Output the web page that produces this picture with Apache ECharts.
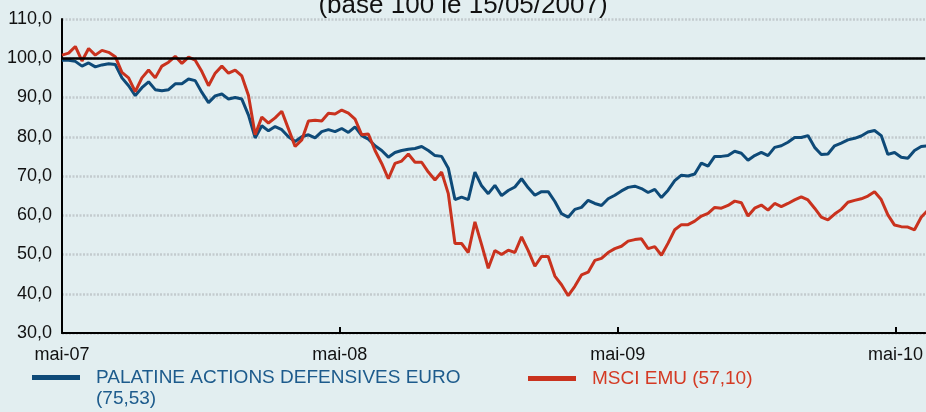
<!DOCTYPE html>
<html>
<head>
<meta charset="utf-8">
<script src="https://cdn.jsdelivr.net/npm/echarts@6/dist/echarts.min.js"></script>
<style>
  html, body { margin: 0; padding: 0; background: #e2eef0; }
  #chart { width: 926px; height: 412px; }
</style>
</head>
<body>
<div id="chart"></div>
<script>
// one reading every 8.75 days from 15/05/2007
const sampleDays = 8.75
const tickLabels = ['mai-07', 'mai-08', 'mai-09', 'mai-10']

const palatine = [
  99.5, 99.5, 99.2, 98, 98.8, 97.8, 98.3, 98.6, 98.4, 95,
  93, 90.5, 92.5, 94, 92, 91.7, 92, 93.5, 93.5, 94.7,
  94.3, 91.3, 88.7, 90.4, 90.9, 89.6, 90, 89.6, 85.5, 79.7,
  82.8, 81.5, 82.6, 81.8, 80, 78.8, 80, 80.5, 79.7, 81.3,
  81.8, 81.3, 82.1, 81.1, 82.5, 80.3, 79.4, 77.7, 76.5, 74.8,
  76, 76.5, 76.8, 77, 77.5, 76.5, 75.2, 75, 72, 64,
  64.6, 64, 71, 67.5, 65.5, 67.6, 65, 66.3, 67.2, 69.3,
  67, 65.1, 66, 66, 63.5, 60.4, 59.5, 61.5, 62, 63.8,
  63, 62.5, 64.2, 65.1, 66.2, 67.1, 67.4, 66.8, 65.8, 66.6,
  64.5, 66.4, 68.8, 70.2, 70, 70.5, 73.3, 72.5, 75, 75,
  75.2, 76.3, 75.8, 74, 75.2, 76, 75.2, 77.3, 77.7, 78.6,
  79.8, 79.8, 80.3, 77.3, 75.5, 75.6, 77.7, 78.4, 79.2, 79.6,
  80.2, 81.2, 81.6, 80.3, 75.5, 76, 74.8, 74.5, 76.5, 77.5,
  77.7
]

const msci = [
  100.8, 101.3, 103, 99.3, 102.5, 100.8, 102, 101.5, 100.4, 96.4,
  95, 91.5, 95, 97, 95, 98, 99, 100.5, 98.7, 100.3,
  99.5, 96.6, 93, 96.2, 98, 96.2, 97, 95.5, 90.5, 80.5,
  85, 83.5, 84.8, 86.5, 82, 77.5, 79.2, 84, 84.2, 84,
  86, 85.8, 86.8, 86, 84.5, 80.5, 80.7, 76.5, 73.2, 69.3,
  73.2, 73.8, 75.6, 73.5, 73.5, 71, 69, 71, 65.5, 52.8,
  52.8, 50.5, 58.3, 52.5, 46.5, 51, 50, 51.1, 50.5, 54.5,
  51, 47, 49.5, 49.5, 44.5, 42.3, 39.5, 41.9, 44.8, 45.5,
  48.5, 49, 50.5, 51.5, 52.1, 53.4, 53.8, 54, 51.5, 52,
  49.8, 52.9, 56.3, 57.6, 57.6, 58.5, 59.8, 60.5, 62, 61.8,
  62.5, 63.6, 63.2, 59.8, 61.8, 62.6, 61.3, 63, 62.2, 63,
  63.9, 64.7, 63.9, 61.8, 59.5, 58.8, 60.3, 61.5, 63.3, 63.8,
  64.2, 64.9, 66, 64, 60.1, 57.5, 57.1, 57, 56.3, 59.5,
  61.3
]

const blue = '#0e4a78'
const red = '#c9321e'
const font = 'Liberation Sans, Arial, sans-serif'

const chart = echarts.init(document.getElementById('chart'))

chart.setOption({
  backgroundColor: '#e2eef0',
  animation: false,
  title: {
    text: '(base 100 le 15/05/2007)',
    left: 'center',
    top: -12,
    textStyle: { fontFamily: font, fontSize: 26, fontWeight: 'normal', color: '#111' }
  },
  grid: { left: 62, top: 19, bottom: 79, right: 0 },
  legend: [
    {
      // blank first line so the icon sits beside the first line of text
      data: [{ name: 'PALATINE ACTIONS DEFENSIVES EURO\n(75,53)', textStyle: { color: '#1d5b8c' } }],
      formatter: (n) => ' \n' + n,
      left: 32, top: 346, padding: 0,
      icon: 'rect', itemWidth: 48, itemHeight: 5,
      textStyle: { fontFamily: font, fontSize: 19, lineHeight: 21, padding: [0, 0, 0, 11] }
    },
    {
      data: [{ name: 'MSCI EMU (57,10)', textStyle: { color: '#d43a24' } }],
      left: 528, top: 368, padding: 0,
      icon: 'rect', itemWidth: 48, itemHeight: 5,
      textStyle: { fontFamily: font, fontSize: 19, lineHeight: 21, padding: [0, 0, 0, 11] }
    }
  ],
  xAxis: {
    type: 'value',
    min: 0,
    max: 1134,
    interval: 365,
    axisLine: { show: true, onZero: false, lineStyle: { color: '#000', width: 2 } },
    axisTick: { show: true, inside: true, length: 6, lineStyle: { color: '#000', width: 2 } },
    axisLabel: {
      margin: 13,
      fontFamily: font, fontSize: 18, color: '#111',
      formatter: (v) => tickLabels[Math.round(v / 365)] || ''
    },
    splitLine: { show: false }
  },
  yAxis: {
    type: 'value',
    min: 30,
    max: 110,
    interval: 10,
    axisLine: { show: true, lineStyle: { color: '#000', width: 2 } },
    axisTick: { show: false },
    axisLabel: {
      margin: 10,
      fontFamily: font, fontSize: 18, color: '#111',
      formatter: (v) => v.toFixed(1).replace('.', ',')
    },
    splitLine: { show: true, lineStyle: { color: '#c3cbce', width: 2.5, type: [2, 1.5] } }
  },
  series: [
    {
      name: 'PALATINE ACTIONS DEFENSIVES EURO\n(75,53)',
      type: 'line',
      data: palatine.map((v, i) => [i * sampleDays, v]),
      showSymbol: false,
      color: blue,
      lineStyle: { width: 3, color: blue },
      z: 3,
      markLine: {
        silent: true,
        symbol: 'none',
        label: { show: false },
        lineStyle: { color: '#000', width: 2.5, type: 'solid' },
        data: [{ yAxis: 100 }]
      }
    },
    {
      name: 'MSCI EMU (57,10)',
      type: 'line',
      data: msci.map((v, i) => [i * sampleDays, v]),
      showSymbol: false,
      color: red,
      lineStyle: { width: 3, color: red },
      z: 4
    }
  ]
})
</script>
</body>
</html>
